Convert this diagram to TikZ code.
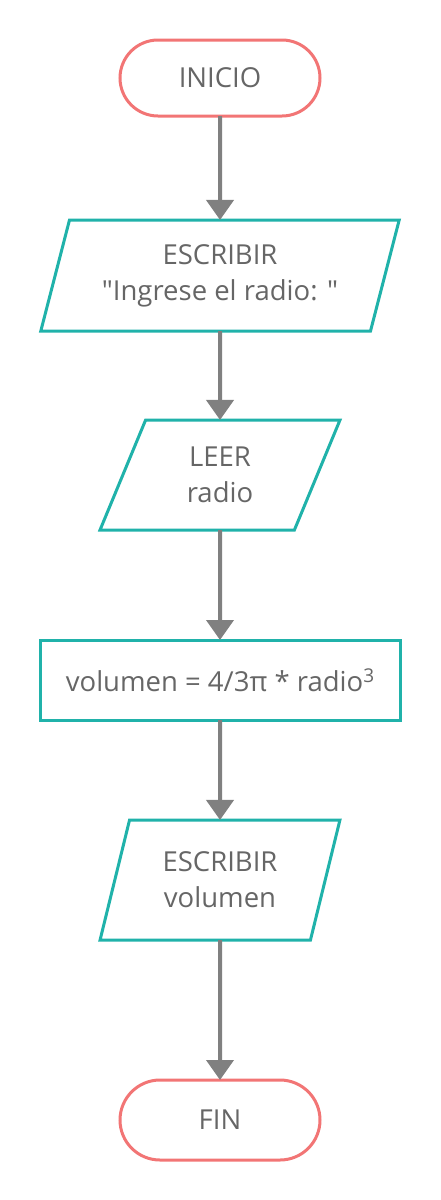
\documentclass[tikz,border=0pt]{standalone}
\usepackage{fontspec}
\newfontfamily\osans{Open Sans}
\usetikzlibrary{shapes.geometric,arrows.meta}
\definecolor{termred}{HTML}{F27575}
\definecolor{ioteal}{HTML}{20B2AA}
\definecolor{arrowgray}{HTML}{808080}
\definecolor{txtgray}{HTML}{666666}
\newcommand{\mysup}[1]{\raisebox{8.5pt}{\fontsize{19}{19}\selectfont #1}}
\tikzset{
  base/.style={font=\osans\fontsize{27.5}{36}\selectfont, text=txtgray, align=center, line width=3pt, fill=white, inner sep=0pt, outer sep=0pt},
  term/.style={base, draw=termred, rectangle, minimum width=200pt},
  iobox/.style={base, draw=ioteal, trapezium, trapezium stretches=true},
  procbox/.style={base, draw=ioteal, rectangle},
  conn/.style={draw=arrowgray, line width=4pt, -{Triangle[width=27pt,length=20pt]}}
}
\begin{document}
\begin{tikzpicture}[x=1pt,y=-1pt]
\useasboundingbox (0,0) rectangle (440,1200);
\node[term, minimum height=76pt, rounded corners=38pt] (ini) at (220,78) {INICIO};
\node[iobox, minimum width=360pt, minimum height=111pt, trapezium left angle=70.2, trapezium right angle=109.8] (esc1) at (220,275.5) {ESCRIBIR\\"Ingrese el radio: "};
\node[iobox, minimum width=240pt, minimum height=110pt, trapezium left angle=70.0, trapezium right angle=110.0] (leer) at (220,475) {LEER\\radio};
\node[procbox, minimum width=360pt, minimum height=80pt] (proc) at (220,680) {volumen = 4/3π * radio\mysup{3}};
\node[iobox, minimum width=240pt, minimum height=120pt, trapezium left angle=71.57, trapezium right angle=108.43] (esc2) at (220,880) {ESCRIBIR\\volumen};
\node[term, minimum height=80pt, rounded corners=40pt] (fin) at (220,1120) {FIN};
\draw[conn] (ini.south) -- (esc1.north);
\draw[conn] (esc1.south) -- (leer.north);
\draw[conn] (leer.south) -- (proc.north);
\draw[conn] (proc.south) -- (esc2.north);
\draw[conn] (esc2.south) -- (fin.north);
\end{tikzpicture}
\end{document}
